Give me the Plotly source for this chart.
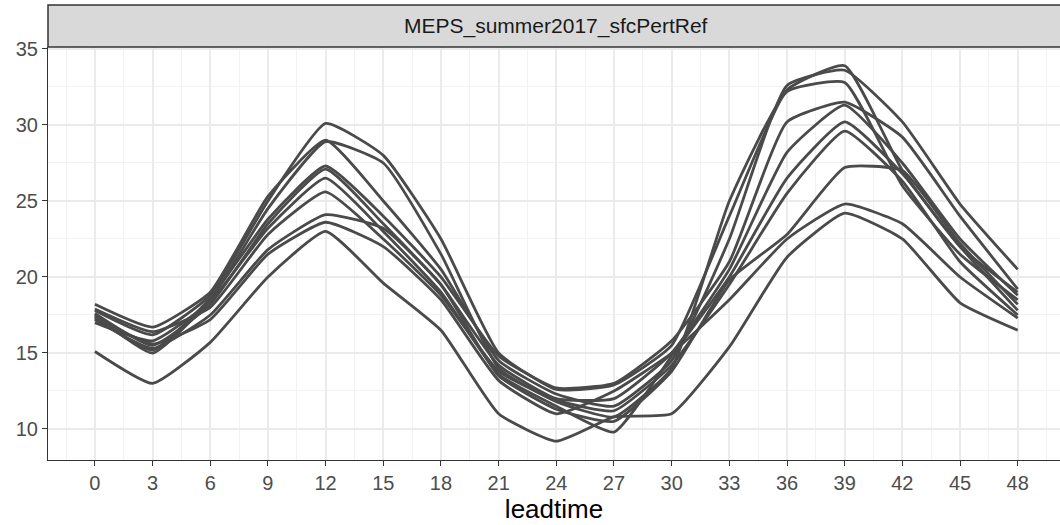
import plotly.graph_objects as go

# Forecast lead times (hours) and 2 m temperature per ensemble member
leadtime = [0, 3, 6, 9, 12, 15, 18, 21, 24, 27, 30, 33, 36, 39, 42, 45, 48]

mbr00 = [17.8, 16.2, 18.8, 25.0, 30.1, 28.0, 22.5, 15.0, 12.6, 12.9, 15.5, 24.0, 32.3, 33.9, 27.0, 22.0, 19.0]
mbr01 = [18.2, 16.7, 19.0, 25.3, 29.0, 25.0, 20.5, 14.5, 12.3, 11.5, 14.5, 22.5, 32.6, 33.6, 30.2, 24.8, 20.5]
mbr02 = [17.5, 15.0, 18.5, 24.5, 28.9, 27.5, 21.5, 14.0, 11.8, 10.8, 14.0, 25.0, 32.2, 32.8, 26.0, 21.5, 18.5]
mbr03 = [17.3, 15.2, 18.6, 23.8, 27.3, 24.0, 20.0, 14.8, 12.7, 13.0, 15.8, 21.0, 30.2, 31.5, 29.2, 24.0, 19.2]
mbr04 = [17.6, 15.5, 18.2, 23.5, 27.1, 23.5, 19.5, 14.2, 12.0, 12.0, 15.0, 20.5, 28.2, 31.3, 27.5, 22.5, 18.8]
mbr05 = [17.0, 15.8, 18.4, 23.2, 26.5, 23.0, 19.0, 13.6, 11.5, 9.8, 14.8, 20.0, 26.5, 30.2, 26.8, 22.0, 17.8]
mbr06 = [17.9, 16.4, 18.0, 22.8, 25.6, 22.5, 18.8, 13.8, 11.9, 11.2, 14.2, 19.5, 25.5, 29.6, 26.3, 21.0, 17.5]
mbr07 = [17.2, 15.3, 17.5, 21.8, 24.1, 23.2, 19.5, 13.5, 11.3, 10.5, 13.8, 19.8, 22.8, 27.2, 27.0, 22.2, 18.2]
mbr08 = [17.4, 15.6, 17.2, 21.5, 23.6, 22.0, 18.5, 13.2, 11.0, 12.5, 15.0, 18.5, 22.5, 24.8, 23.5, 20.0, 17.3]
mbr09 = [15.1, 13.0, 15.7, 20.0, 23.0, 19.6, 16.5, 11.0, 9.2, 10.8, 11.0, 15.4, 21.3, 24.2, 22.5, 18.3, 16.5]

members = [mbr00, mbr01, mbr02, mbr03, mbr04, mbr05, mbr06, mbr07, mbr08, mbr09]

x_ticks = list(range(0, 49, 3))
y_ticks = [10, 15, 20, 25, 30, 35]
panel_title = "MEPS_summer2017_sfcPertRef"

fig = go.Figure()
for vals in members:
    fig.add_trace(go.Scatter(
        x=leadtime, y=vals, mode="lines",
        line=dict(color="#4a4a4a", width=2.8, shape="spline", smoothing=0.45),
        showlegend=False, hoverinfo="skip",
    ))

font_family = "Liberation Sans, Arial, sans-serif"

fig.update_layout(
    width=1060, height=525,
    margin=dict(l=48, r=0, t=47, b=65),
    paper_bgcolor="white", plot_bgcolor="white",
    font=dict(family=font_family, color="#4d4d4d"),
    xaxis=dict(
        range=[-2.44, 50.2], tickvals=x_ticks,
        ticks="outside", ticklen=5, tickcolor="#333333", tickwidth=1.2,
        tickfont=dict(size=20, color="#4d4d4d"),
        showgrid=True, gridcolor="#ebebeb", gridwidth=2,
        minor=dict(tick0=1.5, dtick=3, showgrid=True, gridcolor="#f2f2f2", gridwidth=1),
        showline=True, linecolor="#333333", linewidth=1.2,
        zeroline=False,
        title=dict(text="leadtime", font=dict(size=26, color="#000000"), standoff=6),
    ),
    yaxis=dict(
        range=[7.96, 35.13], tickvals=y_ticks,
        ticks="outside", ticklen=5, tickcolor="#333333", tickwidth=1.2,
        tickfont=dict(size=20, color="#4d4d4d"),
        showgrid=True, gridcolor="#ebebeb", gridwidth=2,
        minor=dict(tick0=12.5, dtick=5, showgrid=True, gridcolor="#f2f2f2", gridwidth=1),
        showline=True, linecolor="#333333", linewidth=1.2,
        zeroline=False,
    ),
)

# Facet strip above the panel
fig.add_shape(
    type="rect", xref="paper", yref="paper",
    x0=0, x1=1.02, y0=1.0, y1=1 + 42 / 413,
    fillcolor="#d9d9d9", line=dict(color="#333333", width=1.5),
    layer="above",
)
fig.add_annotation(
    x=0.502, y=1 + 21 / 413, xref="paper", yref="paper",
    xanchor="center", yanchor="middle",
    text=panel_title, showarrow=False,
    font=dict(size=21, color="#1a1a1a", family=font_family),
)

fig.write_html("out.html")
